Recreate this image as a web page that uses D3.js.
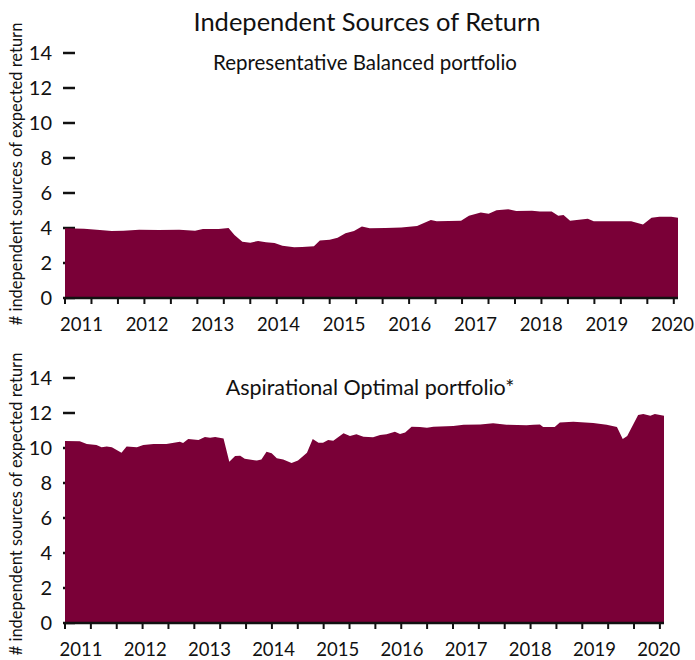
<!DOCTYPE html>
<html>
<head>
<meta charset="utf-8">
<script src="https://cdn.jsdelivr.net/npm/d3@7"></script>
<style>
  html, body { margin: 0; padding: 0; background: #fff; }
  svg { display: block; font-family: Lato, "Open Sans", sans-serif; }
</style>
</head>
<body>
<svg id="chart" width="695" height="660"></svg>
<script>
// ---------------- DATA ----------------
const chartTitle = "Independent Sources of Return";
const yAxisTitle = "# independent sources of expected return";
const panelTitles = ["Representative Balanced portfolio", "Aspirational Optimal portfolio*"];
const yTickValues = [0, 2, 4, 6, 8, 10, 12, 14];
const yearLabels = [2011, 2012, 2013, 2014, 2015, 2016, 2017, 2018, 2019, 2020];
const dateStart = 2010.75;   // Oct 2010
const dateEnd = 2020.083;    // Feb 2020
const tickStep = 0.403;      // years between axis tick marks
const tickCount = 24;

// Representative Balanced portfolio (decimal year, value)
const balancedDates = [2010.75, 2011.04, 2011.28, 2011.46, 2011.64, 2011.88, 2012.18, 2012.49, 2012.73, 2012.85,
  2013.09, 2013.24, 2013.33, 2013.45, 2013.57, 2013.69, 2013.81, 2013.94, 2014.06, 2014.24,
  2014.36, 2014.54, 2014.63, 2014.78, 2014.90, 2015.02, 2015.15, 2015.27, 2015.39, 2015.63,
  2015.87, 2016.11, 2016.32, 2016.41, 2016.78, 2016.90, 2017.08, 2017.20, 2017.32, 2017.50,
  2017.62, 2017.86, 2017.98, 2018.16, 2018.26, 2018.34, 2018.44, 2018.71, 2018.80, 2019.37,
  2019.55, 2019.68, 2019.80, 2019.98, 2020.083];
const balancedValues = [3.98, 3.96, 3.89, 3.83, 3.85, 3.90, 3.89, 3.90, 3.85, 3.94,
  3.95, 4.00, 3.60, 3.22, 3.16, 3.26, 3.19, 3.14, 2.99, 2.90,
  2.92, 2.96, 3.28, 3.33, 3.45, 3.70, 3.83, 4.08, 3.98, 4.00,
  4.03, 4.12, 4.46, 4.38, 4.41, 4.70, 4.88, 4.82, 5.01, 5.07,
  4.97, 4.98, 4.95, 4.95, 4.70, 4.74, 4.42, 4.53, 4.38, 4.38,
  4.20, 4.58, 4.65, 4.65, 4.58];

// Aspirational Optimal portfolio (decimal year, value)
const optimalDates = [2010.75, 2010.98, 2011.09, 2011.24, 2011.32, 2011.40, 2011.48, 2011.63, 2011.71, 2011.87,
  2011.97, 2012.13, 2012.33, 2012.54, 2012.59, 2012.67, 2012.83, 2012.93, 2013.01, 2013.09,
  2013.22, 2013.31, 2013.40, 2013.48, 2013.55, 2013.74, 2013.81, 2013.89, 2013.97, 2014.05,
  2014.15, 2014.28, 2014.38, 2014.52, 2014.61, 2014.70, 2014.77, 2014.85, 2014.93, 2015.09,
  2015.19, 2015.29, 2015.40, 2015.55, 2015.66, 2015.76, 2015.89, 2015.97, 2016.05, 2016.15,
  2016.28, 2016.39, 2016.49, 2016.80, 2016.96, 2017.22, 2017.42, 2017.63, 2017.94, 2018.05,
  2018.15, 2018.20, 2018.38, 2018.46, 2018.67, 2018.98, 2019.19, 2019.35, 2019.44, 2019.51,
  2019.68, 2019.76, 2019.87, 2019.94, 2020.083];
const optimalValues = [10.40, 10.38, 10.23, 10.17, 10.04, 10.08, 10.04, 9.73, 10.08, 10.04,
  10.17, 10.23, 10.23, 10.36, 10.29, 10.51, 10.46, 10.63, 10.59, 10.63,
  10.55, 9.22, 9.54, 9.56, 9.39, 9.28, 9.35, 9.79, 9.70, 9.41,
  9.35, 9.14, 9.28, 9.73, 10.51, 10.30, 10.30, 10.46, 10.42, 10.84,
  10.69, 10.78, 10.65, 10.61, 10.74, 10.78, 10.93, 10.80, 10.88, 11.22,
  11.20, 11.16, 11.22, 11.26, 11.33, 11.35, 11.41, 11.33, 11.30, 11.33,
  11.35, 11.20, 11.20, 11.46, 11.50, 11.43, 11.33, 11.20, 10.51, 10.69,
  11.89, 11.94, 11.84, 11.94, 11.84];

// ---------------- DRAW ----------------
const svg = d3.select("#chart");
const fill = "#7a0037";

svg.append("text")
  .attr("x", 367).attr("y", 31)
  .attr("text-anchor", "middle")
  .attr("font-size", 25.5)
  .attr("fill", "#111")
  .text(chartTitle);

const panels = [
  { dates: balancedDates, values: balancedValues, title: panelTitles[0], titleSize: 20.5,
    x0: 65, x1: 678, yTop: 53, yBottom: 298, titleX: 365, titleY: 70, yTitleY: 174 },
  { dates: optimalDates, values: optimalValues, title: panelTitles[1], titleSize: 21.5,
    x0: 65, x1: 664, yTop: 378, yBottom: 623, titleX: 370, titleY: 395, yTitleY: 504 }
];

panels.forEach(p => {
  const g = svg.append("g");
  const x = d3.scaleLinear().domain([dateStart, dateEnd]).range([p.x0, p.x1]);
  const y = d3.scaleLinear().domain([0, 14]).range([p.yBottom, p.yTop]);

  // y tick dashes and labels
  g.selectAll(".ydash").data(yTickValues).join("line")
    .attr("x1", 63).attr("x2", 75)
    .attr("y1", d => y(d)).attr("y2", d => y(d))
    .attr("stroke", "#111").attr("stroke-width", 2.5);
  g.selectAll(".ylab").data(yTickValues).join("text")
    .attr("x", 52).attr("y", d => y(d))
    .attr("dy", "0.36em")
    .attr("text-anchor", "end")
    .attr("font-size", 20)
    .attr("fill", "#111")
    .text(d => d);

  // area
  const pts = p.dates.map((d, i) => [d, p.values[i]]);
  const area = d3.area()
    .x(d => x(d[0]))
    .y0(y(0))
    .y1(d => y(d[1]));
  g.append("path").datum(pts).attr("d", area).attr("fill", fill);

  // x axis line + ticks
  g.append("line")
    .attr("x1", x(dateStart)).attr("x2", x(dateEnd))
    .attr("y1", y(0)).attr("y2", y(0))
    .attr("stroke", "#111").attr("stroke-width", 2.5);
  const ticks = d3.range(tickCount).map(k => dateStart + k * tickStep);
  g.selectAll(".xt").data(ticks).join("line")
    .attr("x1", d => x(d)).attr("x2", d => x(d))
    .attr("y1", y(0)).attr("y2", y(0) + 6)
    .attr("stroke", "#111").attr("stroke-width", 2);
  g.selectAll(".xlab").data(yearLabels).join("text")
    .attr("x", d => x(d)).attr("y", y(0) + 33)
    .attr("text-anchor", "middle")
    .attr("font-size", 18.5)
    .attr("fill", "#111")
    .text(d => d);

  // panel title
  g.append("text")
    .attr("x", p.titleX).attr("y", p.titleY)
    .attr("text-anchor", "middle")
    .attr("font-size", p.titleSize)
    .attr("fill", "#111")
    .text(p.title);

  // y axis title
  g.append("text")
    .attr("transform", `translate(22,${p.yTitleY}) rotate(-90)`)
    .attr("text-anchor", "middle")
    .attr("font-size", 16.5)
    .attr("fill", "#111")
    .text(yAxisTitle);
});
</script>
</body>
</html>
